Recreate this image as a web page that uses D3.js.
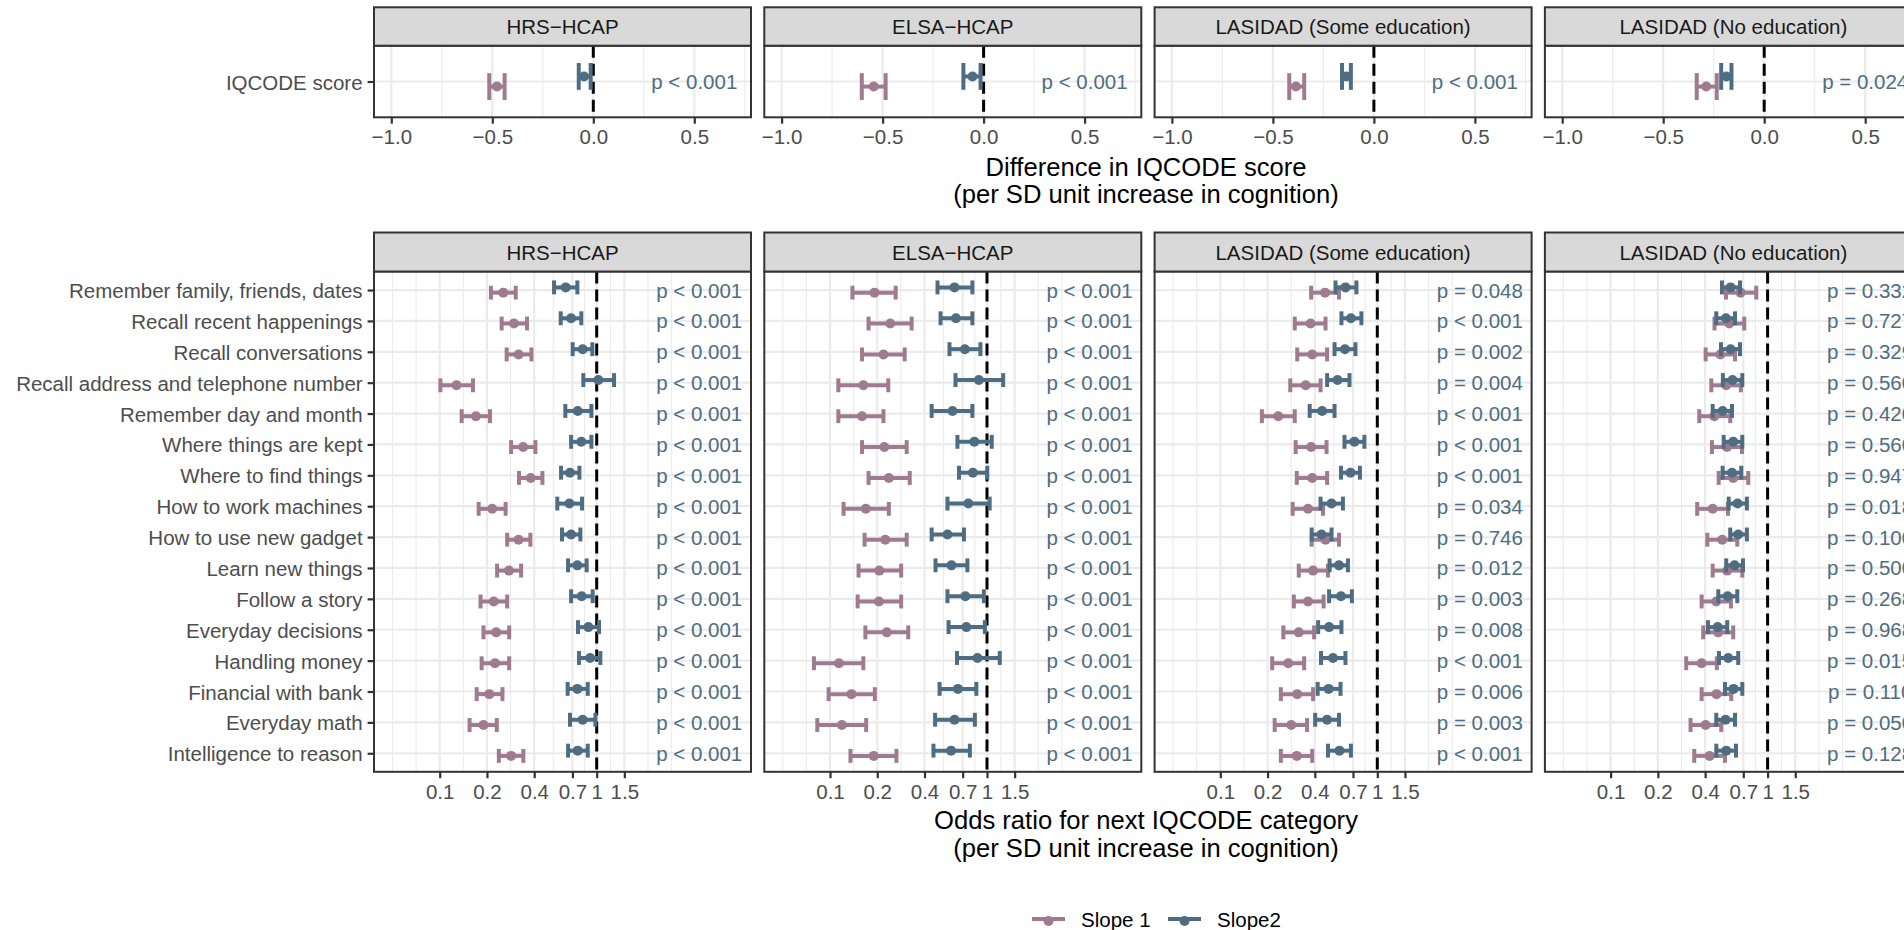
<!DOCTYPE html>
<html>
<head>
<meta charset="utf-8">
<script src="https://cdn.jsdelivr.net/npm/d3@7"></script>
<style>
  body { margin: 0; background: #ffffff; }
  svg text { font-family: "Liberation Sans", Arial, Helvetica, sans-serif; }
</style>
</head>
<body>
<svg id="chart" width="1904" height="930"></svg>
<script>
// ---------------------------------------------------------------
// Data
// ---------------------------------------------------------------
const cohorts = ["HRS\u2212HCAP", "ELSA\u2212HCAP", "LASIDAD (Some education)", "LASIDAD (No education)"];

const items = [
  "Remember family, friends, dates", "Recall recent happenings", "Recall conversations",
  "Recall address and telephone number", "Remember day and month", "Where things are kept",
  "Where to find things", "How to work machines", "How to use new gadget", "Learn new things",
  "Follow a story", "Everyday decisions", "Handling money", "Financial with bank",
  "Everyday math", "Intelligence to reason"
];

const seriesNames = ["Slope 1", "Slope2"];

// IQCODE total score: difference per SD of cognition, [estimate, lower, upper] per cohort
const scoreSlope1 = [[-0.477, -0.515, -0.439], [-0.544, -0.603, -0.485], [-0.386, -0.419, -0.345], [-0.287, -0.334, -0.235]];
const scoreSlope2 = [[-0.046, -0.072, -0.013], [-0.055, -0.100, -0.015], [-0.136, -0.158, -0.114], [-0.187, -0.213, -0.162]];
const scoreP = ["p < 0.001", "p < 0.001", "p < 0.001", "p = 0.024"];

// Item-level odds ratios, [estimate, lower, upper] per item
const hrsSlope1 = [[0.254,0.212,0.305],[0.297,0.248,0.360],[0.318,0.267,0.384],[0.128,0.101,0.163],[0.170,0.138,0.209],[0.340,0.285,0.407],[0.380,0.320,0.451],[0.216,0.177,0.263],[0.318,0.269,0.378],[0.276,0.232,0.330],[0.221,0.182,0.269],[0.229,0.190,0.277],[0.225,0.185,0.277],[0.207,0.172,0.251],[0.190,0.155,0.231],[0.285,0.238,0.341]];
const hrsSlope2 = [[0.635,0.535,0.753],[0.687,0.590,0.798],[0.814,0.703,0.938],[1.025,0.822,1.290],[0.757,0.631,0.925],[0.798,0.687,0.925],[0.676,0.593,0.776],[0.670,0.561,0.807],[0.687,0.601,0.787],[0.753,0.657,0.863],[0.802,0.687,0.943],[0.885,0.760,1.035],[0.908,0.771,1.055],[0.753,0.653,0.877],[0.814,0.676,0.981],[0.757,0.657,0.877]];
const hrsP = Array(16).fill("p < 0.001");

const elsaSlope1 = [[0.192,0.139,0.262],[0.242,0.176,0.331],[0.219,0.160,0.299],[0.163,0.113,0.235],[0.160,0.113,0.219],[0.222,0.160,0.308],[0.237,0.176,0.322],[0.169,0.122,0.237],[0.225,0.166,0.308],[0.206,0.152,0.284],[0.205,0.150,0.284],[0.230,0.168,0.315],[0.114,0.079,0.163],[0.137,0.098,0.193],[0.119,0.083,0.170],[0.190,0.135,0.265]];
const elsaSlope2 = [[0.621,0.484,0.807],[0.634,0.506,0.807],[0.723,0.577,0.908],[0.887,0.630,1.268],[0.603,0.444,0.807],[0.831,0.648,1.072],[0.813,0.663,1.004],[0.761,0.560,1.040],[0.560,0.444,0.713],[0.594,0.470,0.750],[0.728,0.560,0.955],[0.739,0.569,0.969],[0.869,0.644,1.206],[0.653,0.499,0.855],[0.621,0.467,0.837],[0.590,0.456,0.778]];
const elsaP = Array(16).fill("p < 0.001");

const lasSomeSlope1 = [[0.465,0.379,0.570],[0.376,0.298,0.468],[0.385,0.309,0.479],[0.350,0.279,0.435],[0.234,0.184,0.298],[0.379,0.302,0.475],[0.385,0.307,0.479],[0.362,0.289,0.451],[0.468,0.382,0.570],[0.390,0.316,0.485],[0.362,0.294,0.455],[0.316,0.252,0.396],[0.271,0.214,0.342],[0.309,0.243,0.390],[0.283,0.222,0.357],[0.307,0.243,0.385]];
const lasSomeSlope2 = [[0.627,0.542,0.736],[0.679,0.591,0.792],[0.622,0.534,0.726],[0.558,0.479,0.665],[0.445,0.371,0.534],[0.715,0.618,0.828],[0.675,0.587,0.775],[0.511,0.435,0.604],[0.441,0.382,0.511],[0.570,0.497,0.650],[0.587,0.493,0.689],[0.493,0.420,0.591],[0.522,0.438,0.627],[0.490,0.417,0.583],[0.479,0.402,0.570],[0.574,0.485,0.679]];
const lasSomeP = ["p = 0.048","p < 0.001","p = 0.002","p = 0.004","p < 0.001","p < 0.001","p < 0.001","p = 0.034","p = 0.746","p = 0.012","p = 0.003","p = 0.008","p < 0.001","p = 0.006","p = 0.003","p < 0.001"];

const lasNoSlope1 = [[0.673,0.543,0.847],[0.570,0.459,0.710],[0.500,0.403,0.620],[0.545,0.438,0.676],[0.457,0.367,0.578],[0.551,0.442,0.687],[0.604,0.488,0.753],[0.447,0.356,0.559],[0.514,0.413,0.641],[0.553,0.447,0.690],[0.471,0.380,0.584],[0.485,0.389,0.604],[0.380,0.303,0.475],[0.473,0.380,0.587],[0.403,0.323,0.507],[0.427,0.341,0.535]];
const lasNoSlope2 = [[0.581,0.512,0.667],[0.543,0.471,0.620],[0.581,0.505,0.667],[0.598,0.519,0.690],[0.517,0.447,0.593],[0.604,0.525,0.690],[0.593,0.517,0.680],[0.644,0.565,0.738],[0.650,0.578,0.738],[0.616,0.545,0.697],[0.556,0.485,0.641],[0.481,0.417,0.553],[0.561,0.490,0.650],[0.607,0.535,0.690],[0.540,0.471,0.620],[0.545,0.471,0.629]];
const lasNoP = ["p = 0.332","p = 0.727","p = 0.329","p = 0.560","p = 0.420","p = 0.560","p = 0.947","p = 0.018","p = 0.100","p = 0.500","p = 0.268","p = 0.968","p = 0.015","p = 0.110","p = 0.050","p = 0.128"];

// Axis breaks and labels
const scoreBreaks = [-1.0, -0.5, 0.0, 0.5];
const scoreTickLabels = ["\u22121.0", "\u22120.5", "0.0", "0.5"];
const orBreaks = [0.1, 0.2, 0.4, 0.7, 1, 1.5];
const orTickLabels = ["0.1", "0.2", "0.4", "0.7", "1", "1.5"];

const scoreTitle = ["Difference in IQCODE score", "(per SD unit increase in cognition)"];
const orTitle = ["Odds ratio for next IQCODE category", "(per SD unit increase in cognition)"];

// ---------------------------------------------------------------
// Layout & style
// ---------------------------------------------------------------
const COL = ["#9f7b90", "#4f6d82"];
const TEXT_COL = "#4d4d4d";
const GRID = "#ebebeb";
const BORDER = "#333333";
const FS = 20.5, TITLE_FS = 25.6;

const panelX0 = 374, panelW = 377, panelStep = 390.3;
const topStrip = [7.3, 45.7], topBox = [45.7, 117.3];
const botStrip = [232.5, 271.5], botBox = [271.5, 771.8];
const scoreDomain = [-1.0856, 0.7807];
const orDomain = [0.03815, 9.612];
const scoreLabelAt = 0.5, orLabelAt = 4.5;
const dodge = 0.085, capHalf = 0.225;

const svg = d3.select("#chart");

// ggplot-style minor breaks: midpoints between majors, extended one step on each side
function minorBreaks(major) {
  const bd = major[1] - major[0];
  const b = [major[0] - bd, ...major, major[major.length - 1] + bd];
  const out = [b[0], b[b.length - 1]];
  for (let i = 0; i < b.length - 1; i++) out.push((b[i] + b[i + 1]) / 2);
  return out;
}

function drawPanel(opt) {
  const { px, strip, box, x, cats, s1, s2, pLabels, ref, majors, minors, tickLabels, labelAt, title, showY } = opt;
  const g = svg.append("g");
  const y = d3.scalePoint().domain(cats).range(box).padding(0.6);
  const unit = y.step();
  const [x0, x1] = [px, px + panelW];
  const inRange = v => x(v) >= x0 && x(v) <= x1;

  g.append("rect").attr("x", x0).attr("y", box[0]).attr("width", panelW).attr("height", box[1] - box[0]).attr("fill", "#fff");

  // grid
  g.selectAll(null).data(minors.filter(inRange)).join("line")
    .attr("x1", d => x(d)).attr("x2", d => x(d)).attr("y1", box[0]).attr("y2", box[1])
    .attr("stroke", GRID).attr("stroke-width", 1.1);
  g.selectAll(null).data(majors.filter(inRange)).join("line")
    .attr("x1", d => x(d)).attr("x2", d => x(d)).attr("y1", box[0]).attr("y2", box[1])
    .attr("stroke", GRID).attr("stroke-width", 2.2);
  g.selectAll(null).data(cats).join("line")
    .attr("x1", x0).attr("x2", x1).attr("y1", d => y(d)).attr("y2", d => y(d))
    .attr("stroke", GRID).attr("stroke-width", 2.2);

  // reference line
  g.append("line").attr("x1", x(ref)).attr("x2", x(ref)).attr("y1", box[0]).attr("y2", box[1])
    .attr("stroke", "#000").attr("stroke-width", 3).attr("stroke-dasharray", "12,6");

  // error bars with points
  [s1, s2].forEach((series, si) => {
    const off = (si === 0 ? 1 : -1) * dodge * unit;
    const sg = g.append("g").attr("fill", COL[si]).attr("stroke", COL[si]);
    series.forEach((d, i) => {
      const yc = y(cats[i]) + off;
      sg.append("line").attr("x1", x(d[1])).attr("x2", x(d[2])).attr("y1", yc).attr("y2", yc).attr("stroke-width", 4);
      [d[1], d[2]].forEach(v => sg.append("line").attr("x1", x(v)).attr("x2", x(v))
        .attr("y1", yc - capHalf * unit).attr("y2", yc + capHalf * unit).attr("stroke-width", 4));
      sg.append("circle").attr("cx", x(d[0])).attr("cy", yc).attr("r", 5).attr("stroke", "none");
    });
  });

  // p-value labels
  g.selectAll(null).data(pLabels).join("text")
    .attr("x", x(labelAt)).attr("y", (d, i) => y(cats[i])).attr("text-anchor", "middle")
    .attr("dominant-baseline", "central").attr("font-size", FS).attr("fill", COL[1]).text(d => d);

  // border
  g.append("rect").attr("x", x0).attr("y", box[0]).attr("width", panelW).attr("height", box[1] - box[0])
    .attr("fill", "none").attr("stroke", BORDER).attr("stroke-width", 2);

  // strip
  g.append("rect").attr("x", x0).attr("y", strip[0]).attr("width", panelW).attr("height", strip[1] - strip[0])
    .attr("fill", "#d9d9d9").attr("stroke", BORDER).attr("stroke-width", 2);
  g.append("text").attr("x", (x0 + x1) / 2).attr("y", (strip[0] + strip[1]) / 2)
    .attr("text-anchor", "middle").attr("dominant-baseline", "central")
    .attr("font-size", FS).attr("fill", "#1a1a1a").text(title);

  // x axis
  const ax = g.append("g").attr("transform", `translate(0,${box[1]})`)
    .call(d3.axisBottom(x).tickValues(majors).tickSize(6.4).tickPadding(4)
      .tickFormat((d, i) => tickLabels[i]));
  ax.select(".domain").remove();
  ax.selectAll(".tick line").attr("stroke", BORDER).attr("stroke-width", 2.2);
  ax.selectAll(".tick text").attr("font-size", FS).attr("fill", TEXT_COL).attr("font-family", null)
    .attr("dy", null).attr("y", 19.4 - 0).attr("dominant-baseline", "central");

  // y axis
  if (showY) {
    const ay = g.append("g").attr("transform", `translate(${x0},0)`)
      .call(d3.axisLeft(y).tickSize(6.4).tickPadding(5));
    ay.select(".domain").remove();
    ay.selectAll(".tick line").attr("stroke", BORDER).attr("stroke-width", 2.2);
    ay.selectAll(".tick text").attr("font-size", FS).attr("fill", TEXT_COL).attr("font-family", null)
      .attr("dy", null).attr("dominant-baseline", "central");
  }
}

// ---------------------------------------------------------------
// Top row: IQCODE score
// ---------------------------------------------------------------
const scoreMinors = minorBreaks(scoreBreaks);
cohorts.forEach((c, k) => {
  const px = panelX0 + k * panelStep;
  const x = d3.scaleLinear().domain(scoreDomain).range([px, px + panelW]);
  drawPanel({
    px, strip: topStrip, box: topBox, x, cats: ["IQCODE score"],
    s1: [scoreSlope1[k]], s2: [scoreSlope2[k]], pLabels: [scoreP[k]], ref: 0,
    majors: scoreBreaks, minors: scoreMinors, tickLabels: scoreTickLabels,
    labelAt: scoreLabelAt, title: c, showY: k === 0
  });
});

// ---------------------------------------------------------------
// Bottom row: item-level odds ratios
// ---------------------------------------------------------------
const itemSlope1 = [hrsSlope1, elsaSlope1, lasSomeSlope1, lasNoSlope1];
const itemSlope2 = [hrsSlope2, elsaSlope2, lasSomeSlope2, lasNoSlope2];
const itemP = [hrsP, elsaP, lasSomeP, lasNoP];
const orMinors = minorBreaks(orBreaks.map(Math.log10)).map(v => Math.pow(10, v));
cohorts.forEach((c, k) => {
  const px = panelX0 + k * panelStep;
  const x = d3.scaleLog().domain(orDomain).range([px, px + panelW]);
  drawPanel({
    px, strip: botStrip, box: botBox, x, cats: items,
    s1: itemSlope1[k], s2: itemSlope2[k], pLabels: itemP[k], ref: 1,
    majors: orBreaks, minors: orMinors, tickLabels: orTickLabels,
    labelAt: orLabelAt, title: c, showY: k === 0
  });
});

// ---------------------------------------------------------------
// Axis titles
// ---------------------------------------------------------------
const titleX = 1146;
[[scoreTitle, [166.7, 193.8]], [orTitle, [820, 848]]].forEach(([lines, ys]) => {
  lines.forEach((t, i) => svg.append("text").attr("x", titleX).attr("y", ys[i])
    .attr("text-anchor", "middle").attr("dominant-baseline", "central")
    .attr("font-size", TITLE_FS).attr("fill", "#000").text(t));
});

// ---------------------------------------------------------------
// Legend
// ---------------------------------------------------------------
const legend = svg.append("g").attr("transform", "translate(1032,919)");
const keyW = 33, keyGap = 136;
seriesNames.forEach((name, i) => {
  const lg = legend.append("g").attr("transform", `translate(${i * keyGap},0)`);
  lg.append("line").attr("x1", 0).attr("x2", keyW).attr("y1", 0).attr("y2", 0)
    .attr("stroke", COL[i]).attr("stroke-width", 4);
  lg.append("circle").attr("cx", keyW / 2).attr("cy", 2).attr("r", 5).attr("fill", COL[i]);
  lg.append("text").attr("x", keyW + 16).attr("y", 0).attr("dominant-baseline", "central")
    .attr("font-size", FS).attr("fill", "#000").text(name);
});
</script>
</body>
</html>
